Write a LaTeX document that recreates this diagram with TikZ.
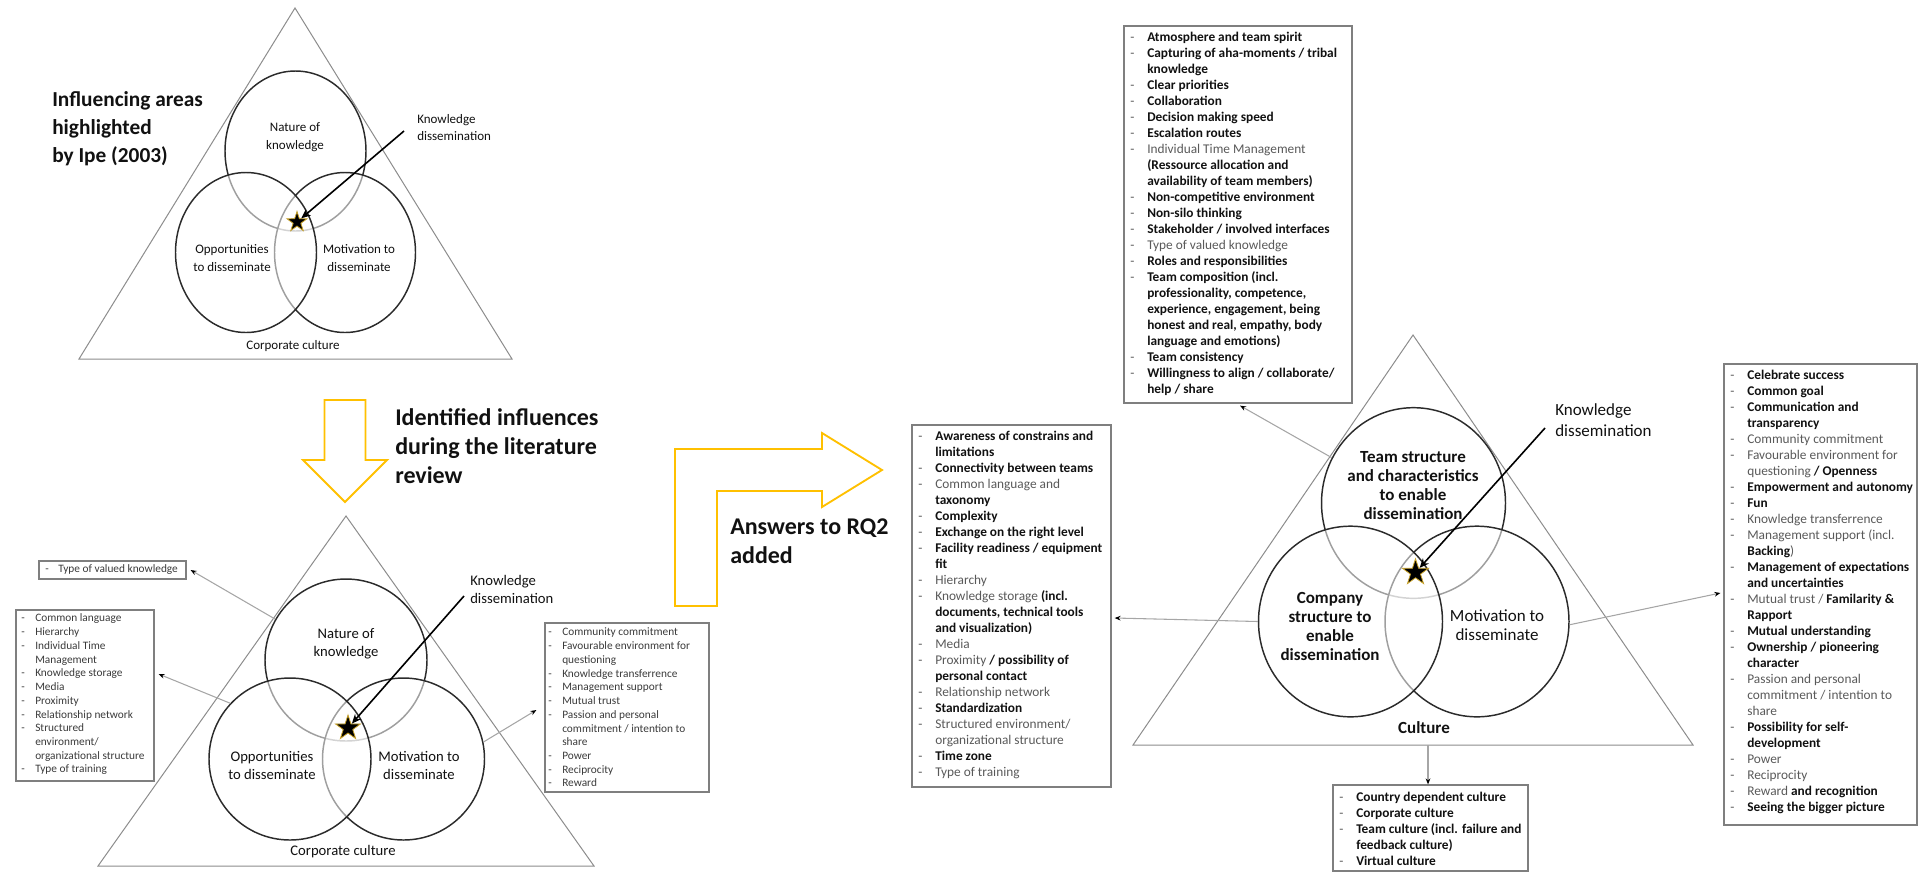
\documentclass[tikz,border=0pt]{standalone}
\usepackage{fontspec}
\setmainfont{Carlito}
\usetikzlibrary{shapes.geometric,arrows.meta,fit,calc}

\definecolor{tri}{HTML}{8C8C8C}
\definecolor{ring}{HTML}{2B2B2B}
\definecolor{framec}{HTML}{7F7F7F}
\definecolor{conn}{HTML}{A6A6A6}
\definecolor{reg}{HTML}{595959}
\definecolor{ink}{HTML}{111111}
\definecolor{smalltxt}{HTML}{3A3A3A}
\definecolor{gold}{HTML}{FFC000}
\definecolor{stargold}{HTML}{C9A227}

% list helpers: a dash in a fixed-width column, continuation lines indented
\newlength\dashw
\setlength\dashw{12.75pt}
\newcommand\dli[1]{\makebox[\dashw][l]{-}#1}
\newcommand\dco[1]{\hspace*{\dashw}#1}
\newcommand\bd[1]{{\bfseries\color{ink}#1}}

\begin{document}
\begin{tikzpicture}[x=0.75pt, y=-0.75pt,
  tri/.style={draw=tri, line width=0.75pt, line join=miter},
  ring/.style={ellipse, draw=ring, line width=1.1pt, fill=white, fill opacity=0.55, inner sep=0pt},
  ringTL/.style={ring, minimum width=105.75pt, minimum height=120pt},
  ringBL/.style={ring, minimum width=121.5pt, minimum height=121.5pt},
  ringR/.style={ring, minimum width=138pt, minimum height=143pt},
  starmark/.style={star, star points=5, star point ratio=2.6, fill=black, draw=stargold, line width=0.6pt, inner sep=0pt},
  kdarrow/.style={draw=black, line width=1.2pt, -{Stealth[length=7pt,width=6pt]}},
  conn/.style={draw=conn, line width=0.8pt, -{Stealth[length=4.5pt,width=3.5pt,color=black]}},
  yarrow/.style={draw=gold, line width=1.4pt, fill=white, line join=miter},
  listframe/.style={draw=framec, line width=0.9pt, inner sep=0pt},
  heading/.style={font=\fontsize{18}{21.75}\selectfont\bfseries, align=left, anchor=west, inner sep=0pt, text=ink},
  lblTL/.style={font=\fontsize{9.75}{13}\selectfont, align=center, inner sep=0pt, text=ink},
  lblBL/.style={font=\fontsize{11}{13.5}\selectfont, align=center, inner sep=0pt, text=ink},
  lblR/.style={font=\fontsize{12.75}{14.25}\selectfont, align=center, inner sep=0pt, text=ink},
  listR/.style={font=\fontsize{10}{12}\selectfont, align=left, anchor=north west, inner sep=0pt, text=reg},
  listS/.style={font=\fontsize{8.5}{10.3}\selectfont, align=left, anchor=north west, inner sep=0pt, text=smalltxt}
]
\useasboundingbox (0,0) rectangle (1919,872);

% ---------------- upper left: Ipe (2003) ----------------
\draw[tri] (295,8) -- (79,359) -- (512,359) -- cycle;
\node[ringTL] (tlTop) at (295.5,151) {};
\node[ringTL] (tlRight) at (345,252.5) {};
\node[ringTL] (tlLeft) at (246,252.5) {};
\node[lblTL] (tlNature) at (295,137) {Nature of\\knowledge};
\node[lblTL] (tlOpp) at (232,258) {Opportunities\\to disseminate};
\node[lblTL] (tlMot) at (359,258) {Motivation to\\disseminate};
\node[lblTL] (tlCult) at (293,346) {Corporate culture};
\node[lblTL, align=left, anchor=west] (tlKD) at (417,127.5) {Knowledge\\dissemination};
\node[starmark, minimum size=15.75pt] (tlStar) at (297,222) {};
\coordinate (tlKDfoot) at (404,131);
\draw[kdarrow] (tlKDfoot) -- (tlStar);
\node[heading, font=\fontsize{16}{21}\selectfont\bfseries] (hIpe) at (52,128.5)
  {Influencing areas\\highlighted\\by Ipe (2003)};

% ---------------- step arrow down ----------------
\draw[yarrow] (324.5,400) -- (365.5,400) -- (365.5,460) -- (387,460) -- (345,502)
  -- (303,460) -- (324.5,460) -- cycle;
\node[heading] (hLit) at (395,446) {Identified influences\\during the literature\\review};

% ---------------- lower left: literature review ----------------
\draw[tri] (346,516) -- (98,866) -- (594,866) -- cycle;
\node[ringBL] (blTop) at (346,660) {};
\node[ringBL] (blRight) at (403.5,759) {};
\node[ringBL] (blLeft) at (290,759) {};
\node[lblBL] (blNature) at (346,644) {Nature of\\knowledge};
\node[lblBL] (blOpp) at (272,765) {Opportunities\\to disseminate};
\node[lblBL] (blMot) at (419,765) {Motivation to\\disseminate};
\node[lblBL] (blCult) at (343,852) {Corporate culture};
\node[lblBL, align=left, anchor=west] (blKD) at (470,589) {Knowledge\\dissemination};
\node[starmark, minimum size=19.5pt] (blStar) at (348,728) {};
\coordinate (blKDfoot) at (464,596);
\draw[kdarrow] (blKDfoot) -- (blStar);

\node[listframe, fit={(39,561) (186,579)}] (tvk) {};
\setlength\dashw{9.75pt}
\node[listS, anchor=west] (tvkTxt) at (45,570) {\dli{Type of valued knowledge}};

\setlength\dashw{10.5pt}
\node[listframe, fit={(16,610) (154,781)}] (blList) {};
\node[listS] (blListTxt) at (21,612) {\strut\dli{Common language}\\
\dli{Hierarchy}\\
\dli{Individual Time}\\
\dco{Management}\\
\dli{Knowledge storage}\\
\dli{Media}\\
\dli{Proximity}\\
\dli{Relationship network}\\
\dli{Structured}\\
\dco{environment/}\\
\dco{organizational structure}\\
\dli{Type of training}};

\node[listframe, fit={(545,623) (709,792)}] (brList) {};
\node[listS] (brListTxt) at (548,626) {\strut\dli{Community commitment}\\
\dli{Favourable environment for}\\
\dco{questioning}\\
\dli{Knowledge transferrence}\\
\dli{Management support}\\
\dli{Mutual trust}\\
\dli{Passion and personal}\\
\dco{commitment / intention to}\\
\dco{share}\\
\dli{Power}\\
\dli{Reciprocity}\\
\dli{Reward}};

\draw[conn] (blTop.150) -- ($(tvk.east)+(4,0)$);
\draw[conn] (blLeft.137) -- ($(blList.east)+(4,-21.5)$);
\draw[conn] (blRight.12) -- ($(brList.west)+(-8,2.5)$);

% ---------------- step arrow right ----------------
\draw[yarrow] (675,606) -- (675,449) -- (822,449) -- (822,433) -- (882,470)
  -- (822,507) -- (822,491) -- (717,491) -- (717,606) -- cycle;
\node[heading] (hRQ) at (730,541) {Answers to RQ2\\added};

% ---------------- right: extended model ----------------
\draw[tri] (1413,335) -- (1133,745) -- (1693,745) -- cycle;
\node[ringR] (rTop) at (1413.5,503) {};
\node[ringR] (rRight) at (1477,621.5) {};
\node[ringR] (rLeft) at (1350.5,621.5) {};
\node[lblR, font=\fontsize{12.75}{14.25}\selectfont\bfseries] (rTeam) at (1413,485.5)
  {Team structure\\and characteristics\\to enable\\dissemination};
\node[lblR, font=\fontsize{12.75}{14.25}\selectfont\bfseries] (rComp) at (1330,626)
  {Company\\structure to\\enable\\dissemination};
\node[lblR] (rMot) at (1497,625.5) {Motivation to\\disseminate};
\node[lblR, font=\fontsize{12.75}{14.25}\selectfont\bfseries] (rCult) at (1424,728) {Culture};
\node[lblR, font=\fontsize{12.75}{15.75}\selectfont, align=left, anchor=west] (rKD) at (1555,420.5)
  {Knowledge\\dissemination};
\node[starmark, minimum size=20.5pt] (rStar) at (1415.5,572.5) {};
\coordinate (rKDfoot) at (1545,428);
\draw[kdarrow] (rKDfoot) -- (rStar);

\setlength\dashw{12.75pt}
% team structure factors
\node[listframe, fit={(1124,26) (1352,403)}] (teamBox) {};
\node[listR] (teamTxt) at (1130,30.3) {\strut\dli{\bd{Atmosphere and team spirit}}\\
\dli{\bd{Capturing of aha-moments / tribal}}\\
\dco{\bd{knowledge}}\\
\dli{\bd{Clear priorities}}\\
\dli{\bd{Collaboration}}\\
\dli{\bd{Decision making speed}}\\
\dli{\bd{Escalation routes}}\\
\dli{Individual Time Management}\\
\dco{\bd{(Ressource allocation and}}\\
\dco{\bd{availability of team members)}}\\
\dli{\bd{Non-competitive environment}}\\
\dli{\bd{Non-silo thinking}}\\
\dli{\bd{Stakeholder / involved interfaces}}\\
\dli{Type of valued knowledge}\\
\dli{\bd{Roles and responsibilities}}\\
\dli{\bd{Team composition (incl.}}\\
\dco{\bd{professionality, competence,}}\\
\dco{\bd{experience, engagement, being}}\\
\dco{\bd{honest and real, empathy, body}}\\
\dco{\bd{language and emotions)}}\\
\dli{\bd{Team consistency}}\\
\dli{\bd{Willingness to align / collaborate/}}\\
\dco{\bd{help / share}}};

% company structure factors
\node[listframe, fit={(912,425) (1111,787)}] (compBox) {};
\node[listR] (compTxt) at (918,429.3) {\strut\dli{\bd{Awareness of constrains and}}\\
\dco{\bd{limitations}}\\
\dli{\bd{Connectivity between teams}}\\
\dli{Common language and}\\
\dco{\bd{taxonomy}}\\
\dli{\bd{Complexity}}\\
\dli{\bd{Exchange on the right level}}\\
\dli{\bd{Facility readiness / equipment}}\\
\dco{\bd{fit}}\\
\dli{Hierarchy}\\
\dli{Knowledge storage \bd{(incl.}}\\
\dco{\bd{documents, technical tools}}\\
\dco{\bd{and visualization)}}\\
\dli{Media}\\
\dli{Proximity \bd{/ possibility of}}\\
\dco{\bd{personal contact}}\\
\dli{Relationship network}\\
\dli{\bd{Standardization}}\\
\dli{Structured environment/}\\
\dco{organizational structure}\\
\dli{\bd{Time zone}}\\
\dli{Type of training}};

% motivation factors
\node[listframe, fit={(1724,364) (1917,825)}] (motBox) {};
\node[listR] (motTxt) at (1730,368.3) {\strut\dli{\bd{Celebrate success}}\\
\dli{\bd{Common goal}}\\
\dli{\bd{Communication and}}\\
\dco{\bd{transparency}}\\
\dli{Community commitment}\\
\dli{Favourable environment for}\\
\dco{questioning \bd{/ Openness}}\\
\dli{\bd{Empowerment and autonomy}}\\
\dli{\bd{Fun}}\\
\dli{Knowledge transferrence}\\
\dli{Management support (incl.}\\
\dco{\bd{Backing})}\\
\dli{\bd{Management of expectations}}\\
\dco{\bd{and uncertainties}}\\
\dli{Mutual trust / \bd{Familarity \&}}\\
\dco{\bd{Rapport}}\\
\dli{\bd{Mutual understanding}}\\
\dli{\bd{Ownership / pioneering}}\\
\dco{\bd{character}}\\
\dli{Passion and personal}\\
\dco{commitment / intention to}\\
\dco{share}\\
\dli{\bd{Possibility for self-}}\\
\dco{\bd{development}}\\
\dli{Power}\\
\dli{Reciprocity}\\
\dli{Reward \bd{and recognition}}\\
\dli{\bd{Seeing the bigger picture}}};

% culture factors
\node[listframe, fit={(1333,785) (1528,871)}] (cultBox) {};
\node[listR] (cultTxt) at (1339,790.3) {\strut\dli{\bd{Country dependent culture}}\\
\dli{\bd{Corporate culture}}\\
\dli{\bd{Team culture (incl. failure and}}\\
\dco{\bd{feedback culture)}}\\
\dli{\bd{Virtual culture}}};

\coordinate (cultFoot) at (1428,745);
\draw[conn] (rTop.151) -- ($(teamBox.south)+(2,2)$);
\draw[conn] (rLeft.180) -- ($(compBox.east)+(3,12)$);
\draw[conn] (rRight.-2) -- ($(motBox.west)+(-3,-1.5)$);
\draw[conn] (cultFoot) -- (cultFoot |- cultBox.north);
\end{tikzpicture}
\end{document}
